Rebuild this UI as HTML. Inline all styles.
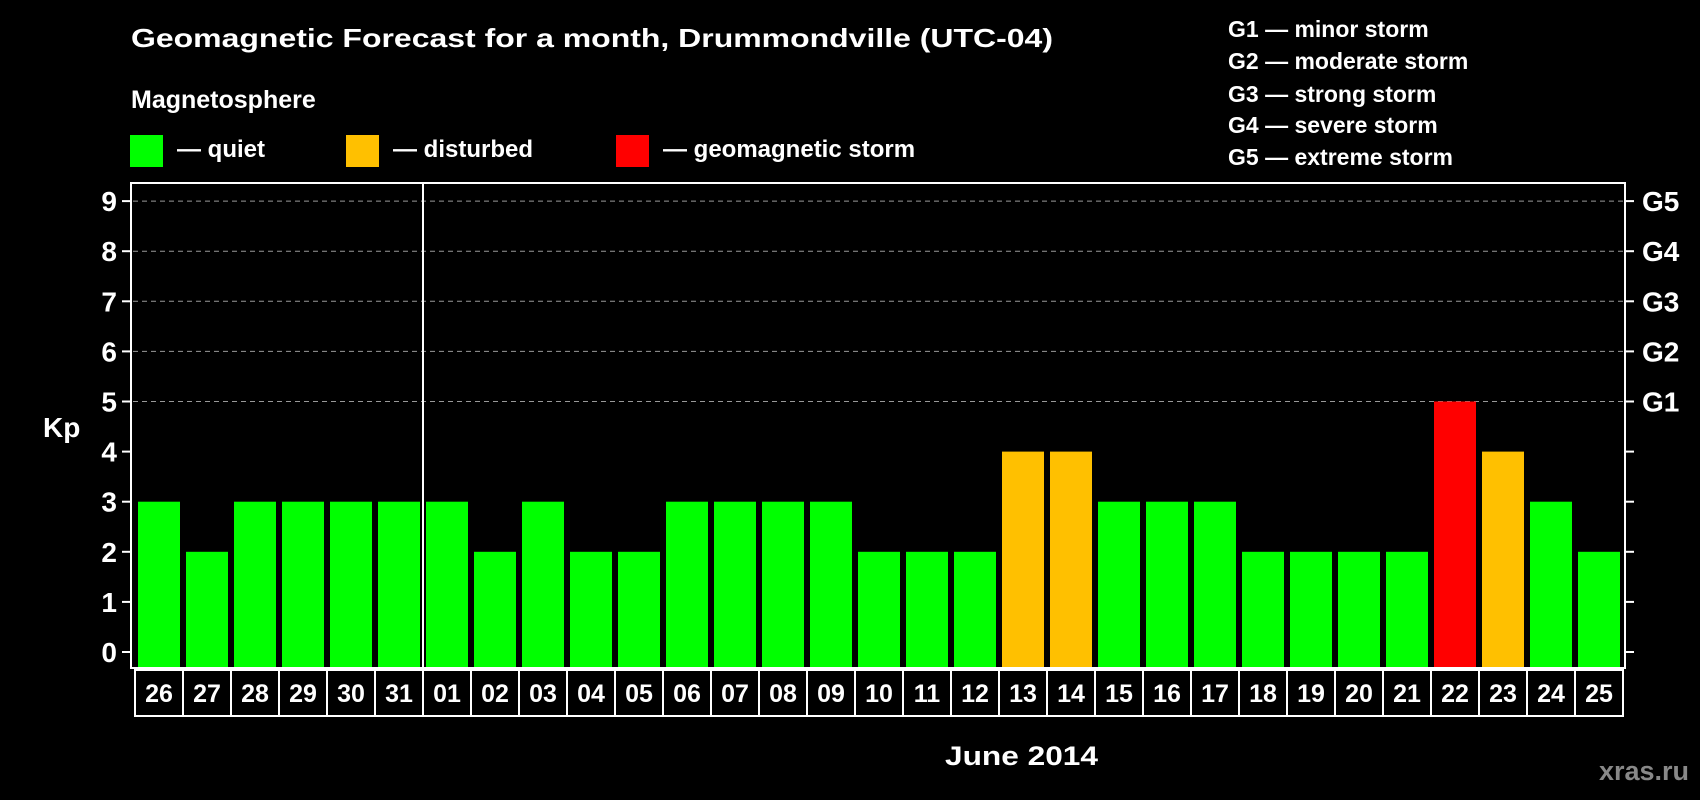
<!DOCTYPE html>
<html><head><meta charset="utf-8"><style>
html,body{margin:0;padding:0;background:#000;}
svg{display:block;font-family:"Liberation Sans",Arial,sans-serif;font-weight:bold;}
</style></head><body>
<svg id="chart" width="1700" height="800" viewBox="0 0 1700 800">
<rect x="0" y="0" width="1700" height="800" fill="#000"/>
<text x="131" y="47" fill="#fff" font-size="26" textLength="922" lengthAdjust="spacingAndGlyphs">Geomagnetic Forecast for a month, Drummondville (UTC-04)</text>
<text x="131" y="108" fill="#fff" font-size="25">Magnetosphere</text>
<g><rect x="130" y="135" width="33" height="32" fill="#00ff00"/><text x="177" y="157" fill="#fff" font-size="24">— quiet</text></g>
<g><rect x="346" y="135" width="33" height="32" fill="#ffc000"/><text x="393" y="157" fill="#fff" font-size="24">— disturbed</text></g>
<g><rect x="616" y="135" width="33" height="32" fill="#ff0000"/><text x="663" y="157" fill="#fff" font-size="24">— geomagnetic storm</text></g>
<g fill="#fff" font-size="23">
<text x="1228" y="37">G1 — minor storm</text>
<text x="1228" y="69">G2 — moderate storm</text>
<text x="1228" y="102">G3 — strong storm</text>
<text x="1228" y="133">G4 — severe storm</text>
<text x="1228" y="165">G5 — extreme storm</text>
</g>
<g id="grid"></g>
<g id="bars"></g>
<rect x="131" y="183" width="1494" height="485" fill="none" stroke="#fff" stroke-width="2"/>
<line x1="423" y1="183" x2="423" y2="716" stroke="#fff" stroke-width="2"/>
<g id="yaxis"></g>
<g id="xaxis"></g>
<text x="43" y="437" fill="#fff" font-size="28">Kp</text>
<text x="945" y="765" fill="#fff" font-size="27" textLength="153" lengthAdjust="spacingAndGlyphs">June 2014</text>
<text x="1689" y="780" fill="#888" font-size="27" text-anchor="end">xras.ru</text>
</svg>
<script>
const days = ["26","27","28","29","30","31","01","02","03","04","05","06","07","08","09","10","11","12","13","14","15","16","17","18","19","20","21","22","23","24","25"];
const kpValues = [3,2,3,3,3,3,3,2,3,2,2,3,3,3,3,2,2,2,4,4,3,3,3,2,2,2,2,5,4,3,2];
const yTicks = [0,1,2,3,4,5,6,7,8,9];
const gLabels = ["","","","","","G1","G2","G3","G4","G5"];
const NS="http://www.w3.org/2000/svg";
const y0=652, unit=50.1, plotBottom=668, x0=138, pitch=48, bw=42;
function yS(v){return y0-v*unit;}
function xS(i){return x0+i*pitch;}
function mk(t,a,p){const e=document.createElementNS(NS,t);for(const k in a)e.setAttribute(k,a[k]);p.appendChild(e);return e;}
const grid=document.getElementById('grid'),bars=document.getElementById('bars'),ya=document.getElementById('yaxis'),xa=document.getElementById('xaxis');
yTicks.forEach((v,i)=>{
  const y=yS(v);
  if(v>=5){const g=mk('line',{x1:133,x2:1623,y1:y,y2:y,stroke:'#999','stroke-dasharray':'5,4','stroke-width':1},grid);
  
  }
  const t1=mk('line',{x1:122,x2:131,y1:y,y2:y,stroke:'#fff','stroke-width':2},ya);
  
  
  const t2=mk('line',{x1:1625,x2:1634,y1:y,y2:y,stroke:'#fff','stroke-width':2},ya);
  
  
  const l=mk('text',{x:117,y:y+10,fill:'#fff','font-size':28,'text-anchor':'end'},ya);l.textContent=v;
  
  
  if(gLabels[i]){const g=mk('text',{x:1642,y:y+10,fill:'#fff','font-size':28},ya);g.textContent=gLabels[i];
  
  }
});
kpValues.forEach((v,i)=>{
  const c=v>=5?'#ff0000':(v>=4?'#ffc000':'#00ff00');
  const r=mk('rect',{x:xS(i),y:yS(v),width:bw,height:plotBottom-yS(v),fill:c},bars);
  
  
});
days.forEach((d,i)=>{
  const c=mk('rect',{x:xS(i)-3,y:670,width:pitch,height:46,fill:'none',stroke:'#fff','stroke-width':2},xa);
  
  
  const t=mk('text',{x:xS(i)+bw/2,y:702,fill:'#fff','font-size':25,'text-anchor':'middle'},xa);t.textContent=d;
  
  
});
</script>
</body></html>
